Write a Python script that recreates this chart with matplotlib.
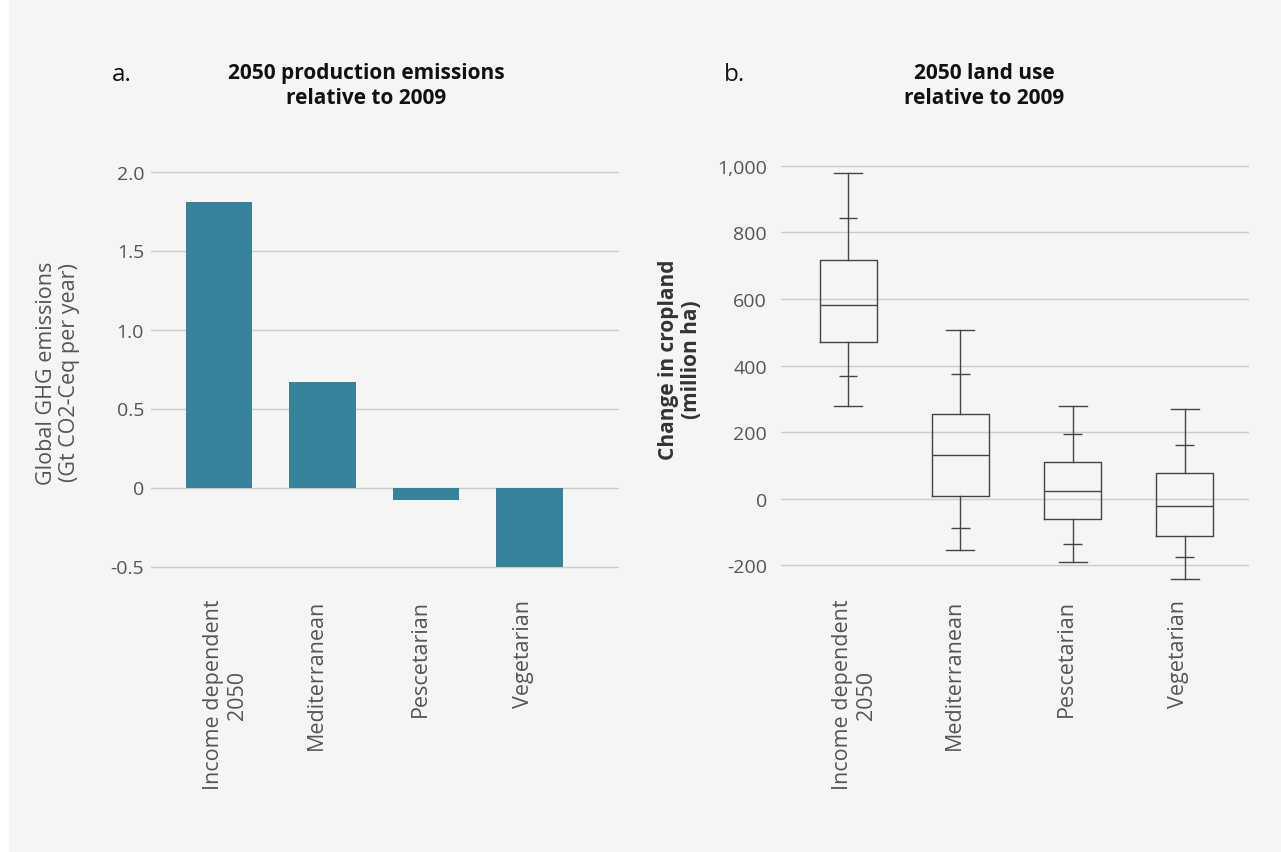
import matplotlib.pyplot as plt
from matplotlib.transforms import ScaledTranslation

plt.rcParams['font.family'] = ['Open Sans', 'DejaVu Sans']

# Panel a: change in production emissions by diet, 2050 vs 2009
diets = ["Income dependent\n2050", "Mediterranean", "Pescetarian", "Vegetarian"]
emissions = [1.81, 0.67, -0.08, -0.50]
emis_ticks = [-0.5, 0, 0.5, 1.0, 1.5, 2.0]
emis_tick_labels = ["-0.5", "0", "0.5", "1.0", "1.5", "2.0"]

# Panel b: change in cropland (million ha), distribution per diet
land_min = [277, -154, -190, -241]
land_p10 = [368, -87, -135, -176]
land_q1 = [470, 8, -60, -112]
land_med = [581, 131, 24, -22]
land_q3 = [716, 253, 109, 76]
land_p90 = [842, 373, 193, 162]
land_max = [977, 508, 277, 268]
land_ticks = [-200, 0, 200, 400, 600, 800, 1000]
land_tick_labels = ["-200", "0", "200", "400", "600", "800", "1,000"]

BG = "#f5f5f5"
BAR = "#35849c"
GRID = "#cccccc"
BOX = "#444444"
TICK = "#555555"

W, H = 1281, 853
fig = plt.figure(figsize=(W / 100, H / 100), dpi=100, facecolor="white")
# grey panel behind everything
fig.patches.append(plt.Rectangle((9 / W, 0), 1, 1, transform=fig.transFigure,
                                 facecolor=BG, edgecolor="none", zorder=-10))


def px_axes(x0, x1, y0, y1):
    return fig.add_axes([x0 / W, 1 - y1 / H, (x1 - x0) / W, (y1 - y0) / H])


def style(ax):
    ax.set_facecolor(BG)
    for s in ax.spines.values():
        s.set_visible(False)
    ax.tick_params(length=0, labelsize=14, colors=TICK)
    ax.tick_params(axis="x", labelsize=15.5)
    ax.grid(axis="y", color=GRID, linewidth=1.0)
    ax.set_axisbelow(True)


def diet_labels(ax, pos):
    ax.set_xticks(pos)
    ax.set_xticklabels(diets, rotation=90, ha="center", va="top",
                       multialignment="center")
    ax.tick_params(axis="x", pad=12)
    # first line of each label sits just left of its tick
    for lab in ax.get_xticklabels():
        n = lab.get_text().count("\n") + 1
        dx = (-6 + (n - 1) * 12.5) / 100
        lab.set_transform(lab.get_transform()
                          + ScaledTranslation(dx, 0, fig.dpi_scale_trans))


# ---- panel a ----
ax1 = px_axes(151, 619, 156.7, 583.3)
style(ax1)
pos = list(range(len(diets)))
ax1.bar(pos, emissions, width=0.64, color=BAR, zorder=3)
ax1.set_xlim(-0.657, 3.865)
ax1.set_ylim(-0.6, 2.1)
ax1.set_yticks(emis_ticks)
ax1.set_yticklabels(emis_tick_labels)
ax1.tick_params(axis="y", pad=5)
diet_labels(ax1, pos)

# ---- panel b ----
ax2 = px_axes(781, 1249, 156.7, 583.3)
style(ax2)
stats = []
for i in range(len(diets)):
    stats.append(dict(med=land_med[i], q1=land_q1[i], q3=land_q3[i],
                      whislo=land_min[i], whishi=land_max[i], fliers=[]))
line = dict(color=BOX, linewidth=1.0)
ax2.bxp(stats, positions=pos, widths=0.51, capwidths=0.25, showfliers=False,
        boxprops=line, whiskerprops=line, capprops=line, medianprops=line,
        manage_ticks=False, zorder=3)
# inner whisker marks (10th / 90th percentile)
ax2.hlines(land_p10, [p - 0.082 for p in pos], [p + 0.082 for p in pos],
           color=BOX, linewidth=1.0, zorder=3)
ax2.hlines(land_p90, [p - 0.082 for p in pos], [p + 0.082 for p in pos],
           color=BOX, linewidth=1.0, zorder=3)
ax2.set_xlim(-0.6, 3.574)
ax2.set_ylim(-251, 1030)
ax2.set_yticks(land_ticks)
ax2.set_yticklabels(land_tick_labels)
ax2.tick_params(axis="y", pad=10)
diet_labels(ax2, pos)

# ---- titles and labels ----
fig.text(112 / W, 1 - 75 / H, "a.", fontsize=17.5, color="#111111", va="center")
fig.text(724 / W, 1 - 75 / H, "b.", fontsize=17.5, color="#111111", va="center")
fig.text(366 / W, 1 - 86 / H, "2050 production emissions\nrelative to 2009",
         fontsize=15, fontweight="bold", color="#111111", ha="center", va="center",
         linespacing=1.2)
fig.text(984 / W, 1 - 86 / H, "2050 land use\nrelative to 2009",
         fontsize=15, fontweight="bold", color="#111111", ha="center", va="center",
         linespacing=1.2)
fig.text(58 / W, 1 - 373 / H, "Global GHG emissions\n(Gt CO2-Ceq per year)",
         fontsize=15.5, color=TICK, rotation=90, ha="center", va="center",
         linespacing=1.15)
fig.text(680 / W, 1 - 360 / H, "Change in cropland\n(million ha)",
         fontsize=15, fontweight="bold", color="#333333", rotation=90,
         ha="center", va="center", linespacing=1.15)

fig.savefig("out.png", dpi=100, facecolor="white")
